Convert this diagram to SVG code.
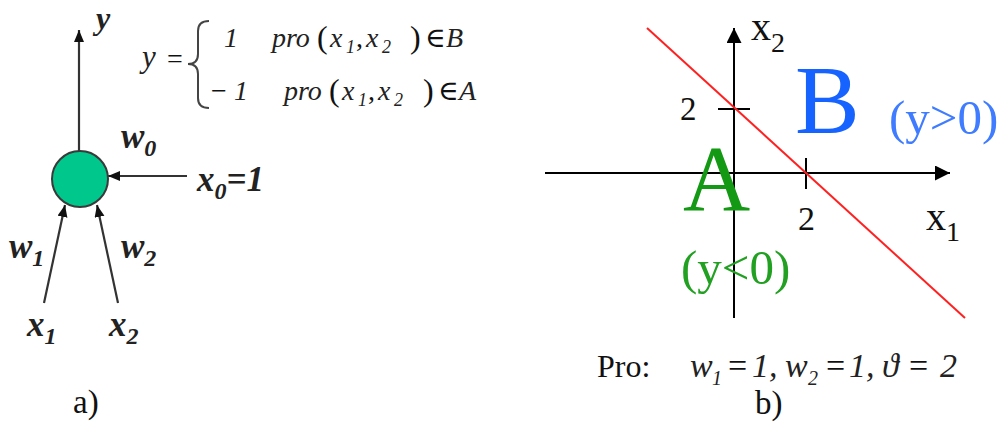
<svg xmlns="http://www.w3.org/2000/svg" width="1003" height="423" viewBox="0 0 1003 423">
  <style>
    text { font-family: 'Liberation Serif', 'DejaVu Serif', serif; }
    .bi { font-style: italic; font-weight: bold; fill: #222; }
    .it { font-style: italic; fill: #222; }
    .rm { font-style: normal; fill: #111; }
    .edge { stroke: #333; stroke-width: 2.2; fill: none; }
    .axis { stroke: #000; stroke-width: 2; fill: none; }
  </style>
  <defs>
    <marker id="ah" markerUnits="userSpaceOnUse" markerWidth="14" markerHeight="12" refX="12" refY="5" orient="auto">
      <path d="M0,0 L12,5 L0,10 Z" fill="#111"/>
    </marker>
    <marker id="ax" markerUnits="userSpaceOnUse" markerWidth="18" markerHeight="16" refX="15" refY="7.5" orient="auto">
      <path d="M0,0 L15,7.5 L0,15 Z" fill="#000"/>
    </marker>
  </defs>
  <rect width="1003" height="423" fill="#fff"/>

  <!-- Left: neuron -->
  <g id="connectors">
    <line class="edge" x1="79" y1="151" x2="79" y2="30" marker-end="url(#ah)"/>
    <line class="edge" x1="187" y1="176" x2="108" y2="176" marker-end="url(#ah)"/>
    <line class="edge" x1="44" y1="303" x2="65" y2="205" marker-end="url(#ah)"/>
    <line class="edge" x1="118" y1="303" x2="97" y2="205" marker-end="url(#ah)"/>
  </g>
  <g id="neuron">
    <circle cx="80" cy="179" r="28" fill="#00C88C" stroke="#3a3a3a" stroke-width="2"/>
  </g>
  <g id="labels-left">
    <text class="bi" x="96" y="29" font-size="32">y</text>
    <text class="bi" x="121" y="148" font-size="35">w<tspan font-size="24" dy="8">0</tspan></text>
    <text class="bi" x="197" y="191" font-size="35">x<tspan font-size="24" dy="8">0</tspan><tspan dy="-8">=1</tspan></text>
    <text class="bi" x="9" y="258" font-size="35">w<tspan font-size="24" dy="8">1</tspan></text>
    <text class="bi" x="121" y="258" font-size="35">w<tspan font-size="24" dy="8">2</tspan></text>
    <text class="bi" x="27" y="336" font-size="35">x<tspan font-size="24" dy="8">1</tspan></text>
    <text class="bi" x="109" y="336" font-size="35">x<tspan font-size="24" dy="8">2</tspan></text>
    <text class="rm" x="73" y="413" font-size="33">a)</text>
  </g>
  <g id="equation">
    <text class="it" x="142" y="67" font-size="31">y</text>
    <text class="rm" x="167" y="68" font-size="28">=</text>
    <path d="M209,21 Q198,21 198,31 L198,54 Q198,64 188,64 Q198,64 198,74 L198,98 Q198,108 209,108" fill="none" stroke="#444" stroke-width="2"/>
    <text class="it" font-size="28" y="47">
      <tspan x="224">1</tspan>
      <tspan x="272">pro</tspan>
    </text>
    <text class="rm" font-size="32" y="48"><tspan x="317">(</tspan><tspan x="410">)</tspan></text>
    <text class="it" font-size="28" y="47"><tspan x="330">x</tspan><tspan x="366">x</tspan></text>
    <text class="it" font-size="18" y="53"><tspan x="346">1</tspan><tspan x="382">2</tspan></text>
    <text class="rm" font-size="28" y="47"><tspan x="356">,</tspan><tspan x="425">∈</tspan></text>
    <text class="it" font-size="28" y="47" x="446">B</text>

    <text class="rm" font-size="28" y="100" x="211">−</text>
    <text class="it" font-size="28" y="100"><tspan x="234">1</tspan><tspan x="284">pro</tspan></text>
    <text class="rm" font-size="32" y="101"><tspan x="329">(</tspan><tspan x="423">)</tspan></text>
    <text class="it" font-size="28" y="100"><tspan x="342">x</tspan><tspan x="378">x</tspan></text>
    <text class="it" font-size="18" y="106"><tspan x="358">1</tspan><tspan x="394">2</tspan></text>
    <text class="rm" font-size="28" y="100"><tspan x="368">,</tspan><tspan x="438">∈</tspan></text>
    <text class="it" font-size="28" y="100" x="459">A</text>
  </g>

  <!-- Right: plane -->
  <g id="axes">
    <line class="axis" x1="545" y1="173" x2="950" y2="173" marker-end="url(#ax)"/>
    <line class="axis" x1="734" y1="318" x2="734" y2="28" marker-end="url(#ax)"/>
    <line class="axis" x1="718" y1="109" x2="750" y2="109"/>
    <line class="axis" x1="806" y1="158" x2="806" y2="189"/>
  </g>
  <g id="boundary">
    <line x1="647" y1="28" x2="965" y2="318" stroke="#ff2020" stroke-width="2"/>
  </g>
  <g id="labels-right">
    <text class="rm" x="751" y="40" font-size="40">x<tspan font-size="28" dy="12">2</tspan></text>
    <text class="rm" x="926" y="230" font-size="40">x<tspan font-size="28" dy="11">1</tspan></text>
    <text class="rm" x="680" y="120" font-size="33">2</text>
    <text class="rm" x="798" y="230" font-size="34">2</text>
    <text class="rm" x="795" y="133" font-size="97" style="fill:#1763ff">B</text>
    <text class="rm" x="889" y="134" font-size="49" style="fill:#3f7cff">(y&gt;0)</text>
    <text class="rm" x="683" y="210" font-size="93" style="fill:#139913">A</text>
    <text class="rm" x="681" y="284" font-size="49" style="fill:#22a022">(y&lt;0)</text>
    <text class="rm" x="597" y="377" font-size="32">Pro:</text>
    <text class="it" font-size="34" y="377">
      <tspan x="690">w</tspan><tspan x="728" class="rm">=</tspan><tspan x="752">1,</tspan>
      <tspan x="785">w</tspan><tspan x="826" class="rm">=</tspan><tspan x="849">1,</tspan>
      <tspan x="882">ϑ</tspan><tspan x="909" class="rm">=</tspan><tspan x="940">2</tspan>
    </text>
    <text class="it" font-size="20" y="385"><tspan x="712">1</tspan><tspan x="808">2</tspan></text>
    <text class="rm" x="755" y="414" font-size="33">b)</text>
  </g>
</svg>
